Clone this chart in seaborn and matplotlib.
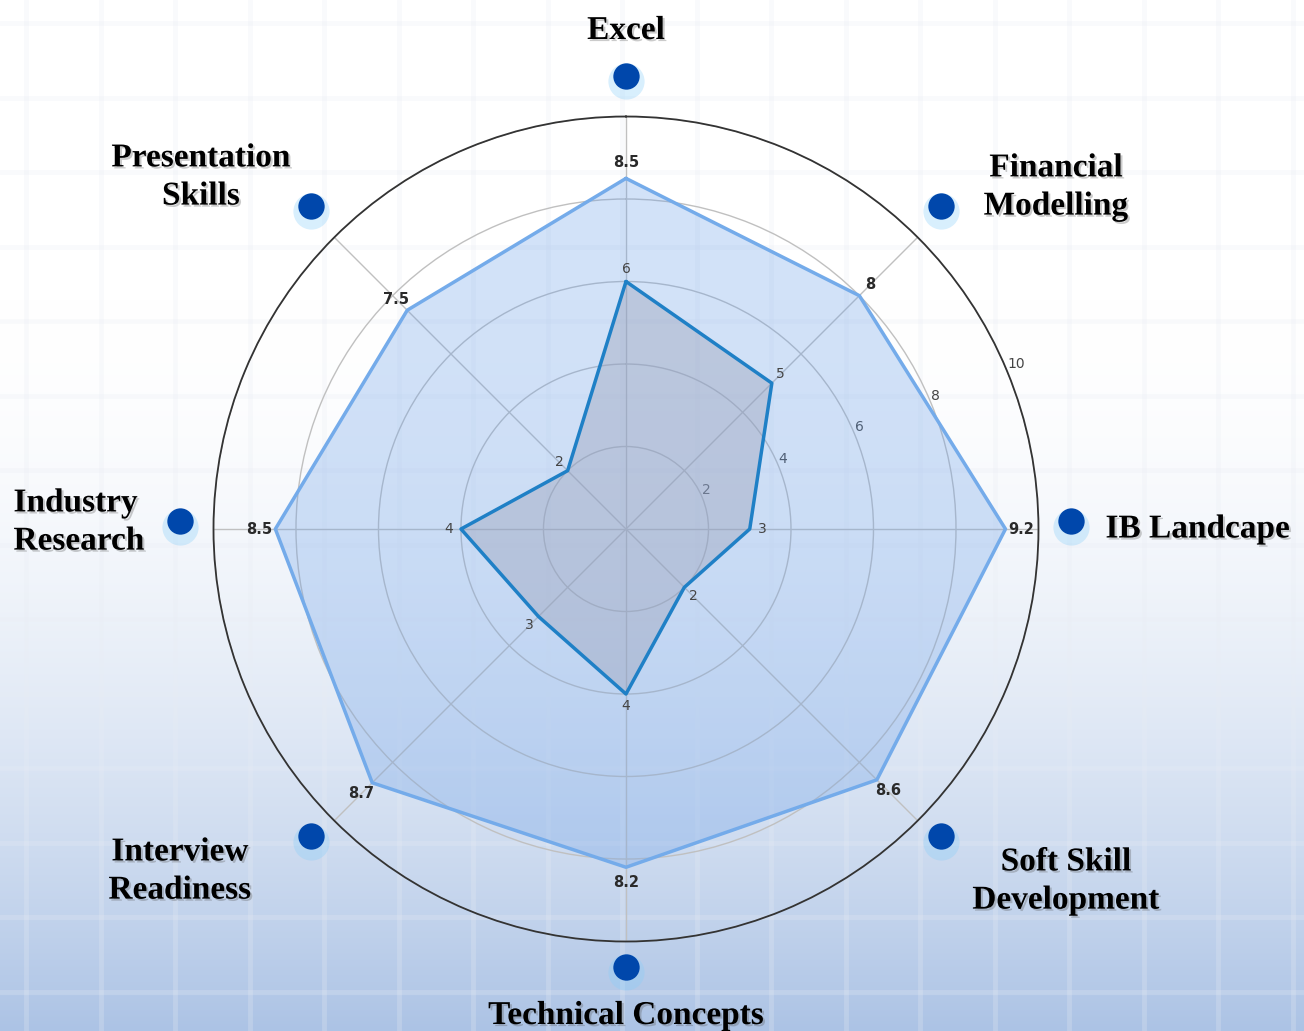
import numpy as np
import pandas as pd
import matplotlib
matplotlib.use("Agg")
import matplotlib.pyplot as plt
import matplotlib.patheffects as pe
import matplotlib.transforms as mtransforms
import seaborn as sns

# Daten
categories = ["Excel", "Financial\nModelling", "IB Landcape", "Soft Skill\nDevelopment",
              "Technical Concepts", "Interview\nReadiness", "Industry\nResearch",
              "Presentation\nSkills"]
target_scores = [8.5, 8, 9.2, 8.6, 8.2, 8.7, 8.5, 7.5]
current_scores = [6, 5, 3, 2, 4, 3, 4, 2]
radial_ticks = [2, 4, 6, 8, 10]

# Beschriftungs-Layout: Versatz in Pixeln vom Punkt, Ausrichtung
label_layout = [((0, 53), "center", "center"),
                ((115, 27), "center", "center"),
                ((34, 0), "left", "center"),
                ((125, -37), "center", "center"),
                ((0, -41), "center", "center"),
                ((-131, -27), "center", "center"),
                ((-36, 7), "right", "left"),
                ((-110, 37), "center", "center")]

sns.set_theme(style="white")
plt.rcParams['font.family'] = ['DejaVu Sans']

W, H = 1304, 1031
fig = plt.figure(figsize=(W / 100, H / 100), dpi=100)

# Hintergrund mit Verlauf und feinem Raster
bg = fig.add_axes([0, 0, 1, 1])
yy = np.linspace(0, 1, H)
t = np.clip((yy * H - 300) / (H - 300), 0, 1) ** 1.8
top = np.array([1.0, 1.0, 1.0])
bottom = np.array([0xac, 0xc3, 0xe5]) / 255
grad = top[None, :] + t[:, None] * (bottom - top)[None, :]
grad = np.repeat(grad[:, None, :], 4, axis=1)
bg.imshow(grad, extent=[0, W, H, 0], aspect='auto', zorder=0)
for gx in np.arange(26, W, 74.5):
    bg.axvline(gx, color='#e9edf4', alpha=0.25, lw=3.5, zorder=1)
for gy in np.arange(23, H, 74.5):
    bg.axhline(gy, color='#e9edf4', alpha=0.25, lw=3.5, zorder=1)
bg.set_xlim(0, W)
bg.set_ylim(H, 0)
bg.axis('off')

# Radar
ax = fig.add_axes([0.1637, 0.0868, 0.6327, 0.8002], projection='polar')
ax.patch.set_alpha(0)
ax.set_theta_zero_location('N')
ax.set_theta_direction(-1)

n = len(categories)
angles = np.linspace(0, 2 * np.pi, n, endpoint=False)
closed = np.append(angles, 2 * np.pi)

df = pd.DataFrame({
    "angle": np.concatenate([closed, closed]),
    "score": target_scores + target_scores[:1] + current_scores + current_scores[:1],
    "series": ["target"] * (n + 1) + ["current"] * (n + 1),
})

ax.fill(closed, target_scores + target_scores[:1], color='#6a9fe8', alpha=0.3, zorder=2)
ax.fill(closed, current_scores + current_scores[:1], color='#9aa0b8', alpha=0.4, zorder=3)
sns.lineplot(data=df, x="angle", y="score", hue="series",
             palette={"target": '#74abea', "current": '#1f80c6'},
             sort=False, estimator=None, legend=False, linewidth=2.5, ax=ax, zorder=4)
ax.set_xlabel("")
ax.set_ylabel("")

ax.set_ylim(0, 10)
ax.set_xticks(angles)
ax.set_xticklabels([])
ax.set_yticks(radial_ticks)
ax.set_yticklabels([str(v) for v in radial_ticks], fontsize=10, color='#444444')
ax.set_rlabel_position(67.5)
ax.grid(True, color='#c0c0c0', linewidth=1)
ax.spines['polar'].set_color('#333333')
ax.spines['polar'].set_linewidth(1.3)

for a, v in zip(angles, target_scores):
    ax.text(a, v + 0.38, f"{v:g}", ha='center', va='center', fontsize=10.5,
            fontweight='bold', color='#2a2a2a', zorder=6)
for a, v in zip(angles, current_scores):
    ax.text(a, v + 0.3, f"{v:g}", ha='center', va='center', fontsize=10,
            color='#444444', zorder=6)

# Punkte und Kategorienbeschriftung
dot_r = 10.8
dot_tr = ax.transData + mtransforms.ScaledTranslation(0, 0.08, fig.dpi_scale_trans)
halo_tr = ax.transData + mtransforms.ScaledTranslation(0, 0.025, fig.dpi_scale_trans)
ax.scatter(angles, [dot_r] * n, s=680, color='#87cefa', alpha=0.32, linewidths=0,
           transform=halo_tr, clip_on=False, zorder=7)
ax.scatter(angles, [dot_r] * n, s=360, color='#0047ab', linewidths=0,
           transform=dot_tr, clip_on=False, zorder=8)

shadow = [pe.withSimplePatchShadow(offset=(1.5, -1.5), shadow_rgbFace='#555555', alpha=0.3)]
for a, lab, (off, ha, ma) in zip(angles, categories, label_layout):
    ax.annotate(lab, xy=(a, dot_r), xycoords='data', xytext=off, textcoords='offset pixels',
                ha=ha, va='center', multialignment=ma, linespacing=1.3,
                fontsize=24, fontweight='bold', family=['Liberation Serif', 'DejaVu Serif'],
                color='black', annotation_clip=False, path_effects=shadow, zorder=9)

fig.savefig("out.png", dpi=100)
